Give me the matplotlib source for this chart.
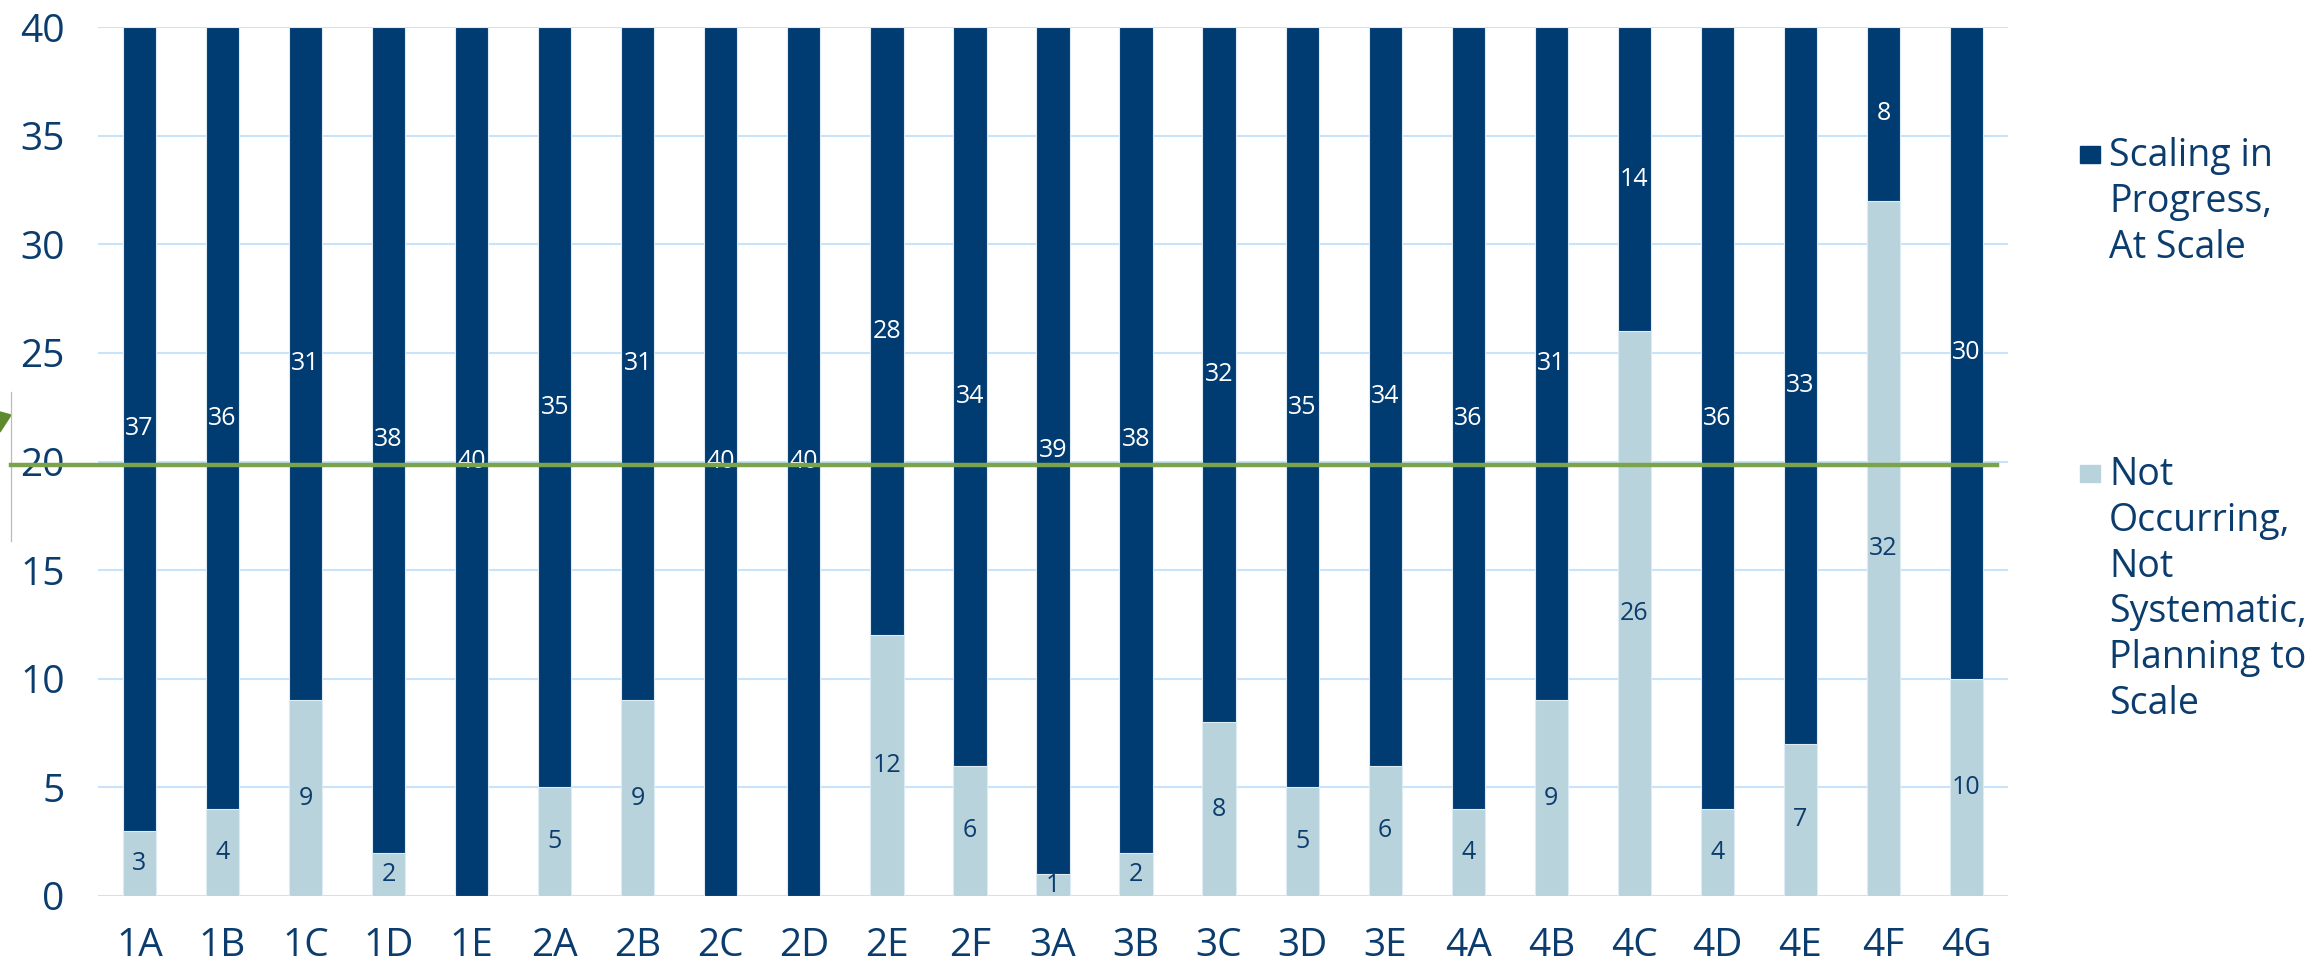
import matplotlib
matplotlib.use("Agg")
import matplotlib.pyplot as plt
from matplotlib.patches import Rectangle, Polygon
from matplotlib.lines import Line2D

plt.rcParams['font.family'] = ['Open Sans', 'DejaVu Sans']

categories = ["1A", "1B", "1C", "1D", "1E", "2A", "2B", "2C", "2D", "2E", "2F",
              "3A", "3B", "3C", "3D", "3E", "4A", "4B", "4C", "4D", "4E", "4F", "4G"]
not_scaling = [3, 4, 9, 2, 0, 5, 9, 0, 0, 12, 6, 1, 2, 8, 5, 6, 4, 9, 26, 4, 7, 32, 10]
scaling = [37, 36, 31, 38, 40, 35, 31, 40, 40, 28, 34, 39, 38, 32, 35, 34, 36, 31, 14, 36, 33, 8, 30]
yticks = [0, 5, 10, 15, 20, 25, 30, 35, 40]
threshold = 19.85
legend_labels = ["Scaling in\nProgress,\nAt Scale",
                 "Not\nOccurring,\nNot\nSystematic,\nPlanning to\nScale"]

DARK = "#003B71"
LIGHT = "#B9D3DC"
TEXT = "#0B3C6E"
GRID = "#C8E3FA"
GREEN = "#7BA34D"

W, H = 2323, 966
fig = plt.figure(figsize=(W / 100, H / 100), dpi=100)
ax = fig.add_axes([98 / W, 1 - 896 / H, (2008 - 98) / W, (896 - 27) / H])

x = list(range(len(categories)))
bw = 0.40
ax.bar(x, not_scaling, width=bw, color=LIGHT, edgecolor="#DDEBF5", linewidth=0.8, zorder=2)
ax.bar(x, scaling, width=bw, bottom=not_scaling, color=DARK, edgecolor="#DDEBF5", linewidth=0.8, zorder=2)

for xi, lo, hi in zip(x, not_scaling, scaling):
    if lo > 0:
        ax.text(xi, lo / 2, str(lo), ha="center", va="center", color=TEXT, fontsize=18, zorder=3)
    if hi > 0:
        ax.text(xi, lo + hi / 2, str(hi), ha="center", va="center", color="white", fontsize=18, zorder=3)

ax.set_xlim(-0.5, len(categories) - 0.5)
ax.set_ylim(0, 40)
ax.set_yticks(yticks)
ax.set_xticks(x)
ax.set_xticklabels(categories)
ax.tick_params(axis="both", length=0, labelsize=28, labelcolor=TEXT)
ax.tick_params(axis="y", pad=24)
ax.tick_params(axis="x", pad=22)
ax.grid(axis="y", color=GRID, linewidth=1.5, zorder=0)
ax.set_axisbelow(True)
for s in ax.spines.values():
    s.set_visible(False)

# threshold line spanning beyond the axes
y_fig = ax.transData.transform((0, threshold))[1] / H
fig.add_artist(Line2D([11 / W, 1997 / W], [y_fig, y_fig], color=GREEN, linewidth=3.2, zorder=5))
# thin gray vertical line and partial arrow head at left edge
fig.add_artist(Line2D([11 / W, 11 / W], [1 - 392 / H, 1 - 541 / H], color="#BBBBBB", linewidth=0.9))
fig.add_artist(Polygon([[0 / W, 1 - 412 / H], [11 / W, 1 - 415 / H], [0 / W, 1 - 432 / H]],
                       closed=True, color="#5E8A2E", transform=fig.transFigure))

# legend
for (yc, label, col) in [(154, legend_labels[0], DARK), (473, legend_labels[1], LIGHT)]:
    fig.add_artist(Rectangle((2080 / W, 1 - (yc + 9) / H), 20 / W, 17 / H, color=col,
                             transform=fig.transFigure))
    fig.text(2109 / W, 1 - (yc - 17) / H, label, ha="left", va="top", color=TEXT,
             fontsize=27, linespacing=1.27)

fig.savefig("out.png", dpi=100)
